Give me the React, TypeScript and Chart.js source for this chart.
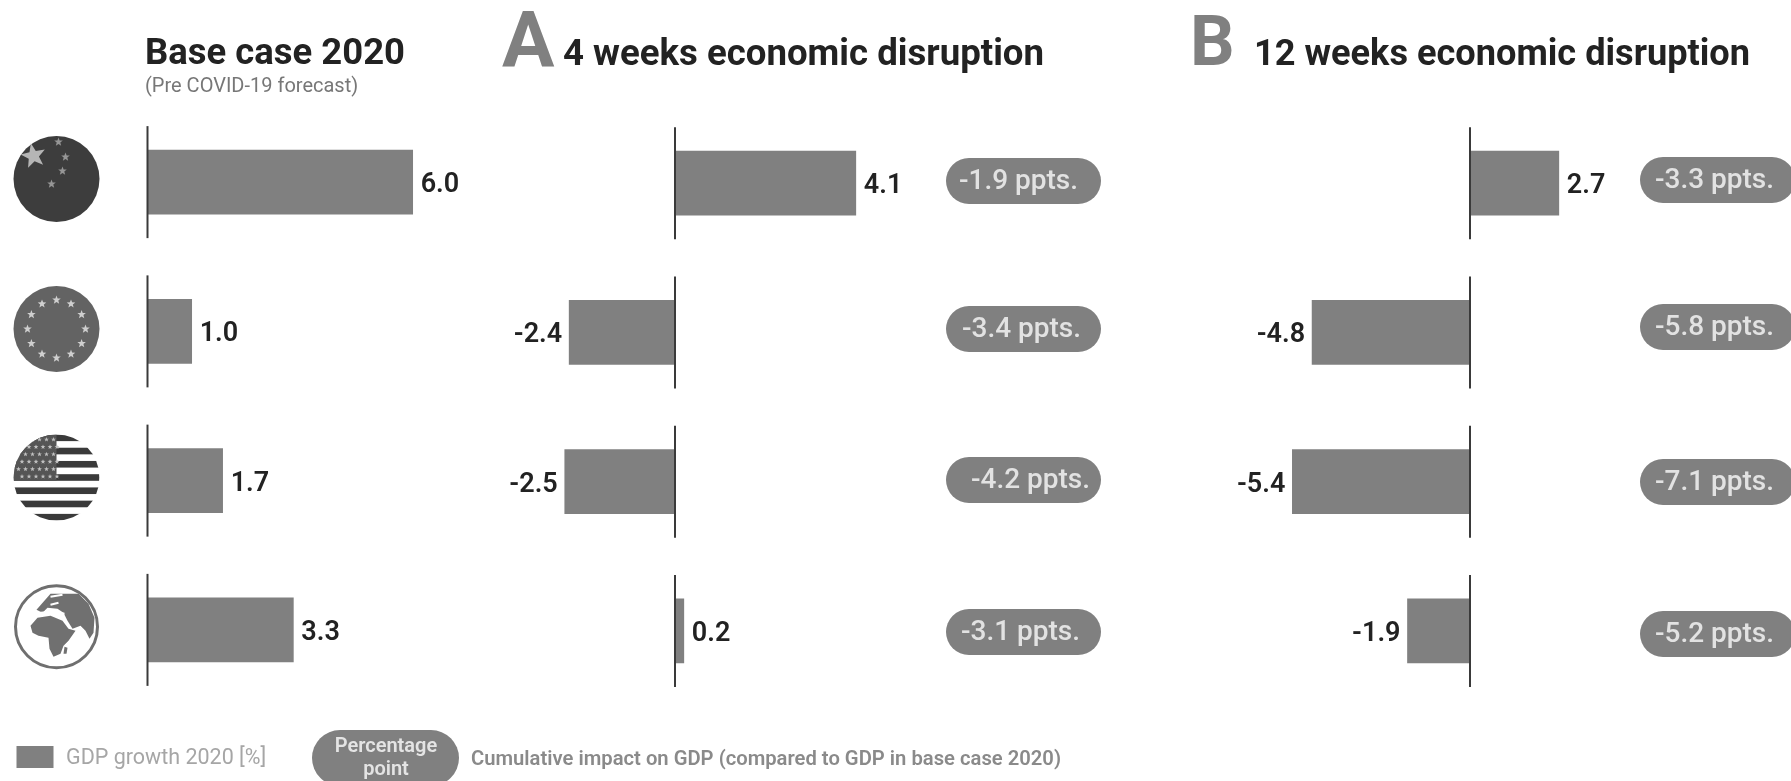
import React, { useEffect, useRef } from "react";
import { Chart, registerables } from "chart.js";

Chart.register(...registerables);

const FONT = "Roboto, 'Noto Sans', sans-serif";
const BAR = "#808080";
const INK = "#222222";

const regions = ["China", "Euro area", "USA", "World"];
const baseCase = [6.0, 1.0, 1.7, 3.3];
const fourWeeks = [4.1, -2.4, -2.5, 0.2];
const twelveWeeks = [2.7, -4.8, -5.4, -1.9];
const fourWeeksImpact = ["-1.9 ppts.", "-3.4 ppts.", "-4.2 ppts.", "-3.1 ppts."];
const twelveWeeksImpact = ["-3.3 ppts.", "-5.8 ppts.", "-7.1 ppts.", "-5.2 ppts."];

type PanelConfig = {
  id: string;
  values: number[];
  impact?: string[];
  impactLeft?: number;
  impactWidth?: number;
  impactCentres?: number[];
  impactShift?: number[];
  zero: number;
  pxPerUnit: number;
  offsetY: number;
};

const panels: PanelConfig[] = [
  { id: "base", values: baseCase, zero: 147.5, pxPerUnit: 44.2, offsetY: 0 },
  {
    id: "four",
    values: fourWeeks,
    impact: fourWeeksImpact,
    impactLeft: 946,
    impactWidth: 155,
    impactCentres: [181, 329, 480, 632],
    impactShift: [-5, -2, 7, -3],
    zero: 675,
    pxPerUnit: 44.1,
    offsetY: 1,
  },
  {
    id: "twelve",
    values: twelveWeeks,
    impact: twelveWeeksImpact,
    impactLeft: 1640,
    impactWidth: 155,
    impactCentres: [180, 327, 482, 634],
    impactShift: [-3, -3, -3, -3],
    zero: 1470,
    pxPerUnit: 32.9,
    offsetY: 1,
  },
];

function pill(ctx: CanvasRenderingContext2D, x: number, y: number, w: number, h: number) {
  ctx.beginPath();
  ctx.roundRect(x, y, w, h, h / 2);
  ctx.fill();
}

// Text condensed to a given width through the maxWidth argument of fillText.
function label(
  ctx: CanvasRenderingContext2D,
  text: string,
  x: number,
  y: number,
  font: string,
  color: string,
  align: CanvasTextAlign = "left",
  maxWidth?: number
) {
  ctx.font = font;
  ctx.fillStyle = color;
  ctx.textAlign = align;
  ctx.textBaseline = "alphabetic";
  if (maxWidth) ctx.fillText(text, x, y, maxWidth);
  else ctx.fillText(text, x, y);
}

const panelDecor = {
  id: "panelDecor",
  afterDatasetsDraw(chart: any, _args: any, opts: any) {
    const cfg: PanelConfig = opts.panel;
    const { ctx, scales } = chart;
    const x = scales.x;
    const y = scales.y;
    const zero = x.getPixelForValue(0);
    ctx.save();
    cfg.values.forEach((v, i) => {
      const cy = y.getPixelForValue(i);
      // Zero line, one short stretch per row
      ctx.strokeStyle = "#3a3a3a";
      ctx.lineWidth = 2;
      ctx.beginPath();
      ctx.moveTo(zero, cy - 56);
      ctx.lineTo(zero, cy + 56);
      ctx.stroke();
      // Value next to the bar end
      const end = x.getPixelForValue(v);
      const text = v.toFixed(1);
      const font = `600 27px ${FONT}`;
      if (v >= 0) label(ctx, text, end + 8, cy + 10, font, INK, "left");
      else label(ctx, text, end - 7, cy + 10, font, INK, "right");
      // Cumulative impact badge
      if (cfg.impact) {
        const pc = cfg.impactCentres![i];
        ctx.fillStyle = BAR;
        pill(ctx, cfg.impactLeft!, pc - 23, cfg.impactWidth!, 46);
        label(
          ctx,
          cfg.impact[i],
          cfg.impactLeft! + 77.5 + cfg.impactShift![i],
          pc + 9 - cfg.offsetY,
          `500 28px ${FONT}`,
          "#e2e2e2",
          "center"
        );
      }
    });
    ctx.restore();
  },
};

function star(ctx: CanvasRenderingContext2D, cx: number, cy: number, r: number, rot = -Math.PI / 2) {
  ctx.beginPath();
  for (let i = 0; i < 10; i++) {
    const rad = i % 2 === 0 ? r : r * 0.42;
    const a = rot + (i * Math.PI) / 5;
    ctx.lineTo(cx + Math.cos(a) * rad, cy + Math.sin(a) * rad);
  }
  ctx.closePath();
  ctx.fill();
}

function clipDisc(ctx: CanvasRenderingContext2D, cx: number, cy: number, r: number) {
  ctx.beginPath();
  ctx.arc(cx, cy, r, 0, Math.PI * 2);
  ctx.clip();
}

function drawChinaFlag(ctx: CanvasRenderingContext2D, cx: number, cy: number, r: number) {
  ctx.fillStyle = "#3d3d3d";
  ctx.beginPath();
  ctx.arc(cx, cy, r, 0, Math.PI * 2);
  ctx.fill();
  ctx.fillStyle = "#b5b5b5";
  star(ctx, cx - 23, cy - 23, 13, -Math.PI / 2 - 0.2);
  ctx.fillStyle = "#969696";
  star(ctx, cx + 2, cy - 37, 4.5);
  star(ctx, cx + 9, cy - 22, 4.5);
  star(ctx, cx + 6, cy - 8, 4.5);
  star(ctx, cx - 5, cy + 5, 4.5);
}

function drawEuFlag(ctx: CanvasRenderingContext2D, cx: number, cy: number, r: number) {
  ctx.fillStyle = "#636363";
  ctx.beginPath();
  ctx.arc(cx, cy, r, 0, Math.PI * 2);
  ctx.fill();
  ctx.fillStyle = "#cfcfcf";
  for (let i = 0; i < 12; i++) {
    const a = (i * Math.PI) / 6;
    star(ctx, cx + Math.cos(a) * 29, cy + Math.sin(a) * 29, 4.5);
  }
}

function drawUsFlag(ctx: CanvasRenderingContext2D, cx: number, cy: number, r: number) {
  ctx.save();
  clipDisc(ctx, cx, cy, r);
  ctx.fillStyle = "#ffffff";
  ctx.fillRect(cx - r, cy - r, r * 2, r * 2);
  ctx.fillStyle = "#3a3a3a";
  const band = (r * 2) / 13;
  for (let i = 0; i < 13; i += 2) {
    ctx.fillRect(cx - r, cy - r + i * band, r * 2, band);
  }
  ctx.fillStyle = "#555555";
  ctx.fillRect(cx - r, cy - r, r, band * 7);
  ctx.fillStyle = "#c0c0c0";
  for (let row = 0; row < 6; row++) {
    for (let col = 0; col < 6; col++) {
      star(ctx, cx - r + 5 + col * 7 + (row % 2) * 3.5, cy - r + 5 + row * 7.4, 2.5);
    }
  }
  ctx.restore();
}

const africa = [[-26, -1], [-19, -9], [-6, -11], [6, -6], [12, 2], [19, 4], [12, 14], [7, 19], [4, 27], [-3, 30], [-7, 22], [-8, 11], [-18, 9], [-24, 6]];
const eurasia = [[-13, -25], [-6, -33], [7, -33], [22, -33], [32, -23], [38, -9], [37, 6], [33, 12], [29, 4], [24, -1], [16, 2], [11, -6], [7, -14], [1, -18], [-9, -19], [-14, -14], [-20, -17]];
const madagascar = [[8, 20], [11, 21], [10, 27], [7, 27]];

function drawGlobe(ctx: CanvasRenderingContext2D, cx: number, cy: number, r: number) {
  const shape = (pts: number[][]) => {
    ctx.beginPath();
    pts.forEach(([px, py]) => ctx.lineTo(cx + px, cy + py));
    ctx.closePath();
    ctx.fill();
  };
  ctx.strokeStyle = "#6f6f6f";
  ctx.lineWidth = 3;
  ctx.beginPath();
  ctx.arc(cx, cy, r - 1.5, 0, Math.PI * 2);
  ctx.stroke();
  ctx.save();
  clipDisc(ctx, cx, cy, r - 1);
  ctx.fillStyle = "#707070";
  shape(africa);
  shape(eurasia);
  shape(madagascar);
  // Light channels: the Mediterranean and the Baltic
  ctx.strokeStyle = "#ffffff";
  ctx.lineWidth = 2;
  ctx.beginPath();
  ctx.moveTo(cx - 16, cy - 14);
  ctx.lineTo(cx - 4, cy - 15);
  ctx.lineTo(cx + 8, cy - 13);
  ctx.moveTo(cx - 6, cy - 30);
  ctx.lineTo(cx + 6, cy - 32);
  ctx.moveTo(cx - 6, cy - 22);
  ctx.lineTo(cx + 2, cy - 24);
  ctx.stroke();
  ctx.restore();
}

const frameDecor = {
  id: "frameDecor",
  afterDraw(chart: any) {
    const { ctx } = chart;
    ctx.save();
    const heading = `700 37px ${FONT}`;
    label(ctx, "Base case 2020", 145, 64, heading, INK, "left", 260);
    label(ctx, "(Pre COVID-19 forecast)", 145, 92, `400 20px ${FONT}`, "#777777", "left", 217);
    label(ctx, "A", 502, 67, `700 78px ${FONT}`, BAR, "left", 54);
    label(ctx, "4 weeks economic disruption", 563, 65, heading, INK, "left", 481);
    label(ctx, "B", 1190, 65, `700 70px ${FONT}`, BAR, "left", 48);
    label(ctx, "12 weeks economic disruption", 1254, 65, heading, INK, "left", 496);

    drawChinaFlag(ctx, 56.5, 179, 43);
    drawEuFlag(ctx, 56.5, 329, 43);
    drawUsFlag(ctx, 56.5, 477.5, 43);
    drawGlobe(ctx, 56.5, 626.7, 42.5);

    ctx.fillStyle = BAR;
    ctx.fillRect(16.5, 746, 37, 22);
    label(ctx, "GDP growth 2020 [%]", 66, 764, `400 21.5px ${FONT}`, "#a6a6a6", "left", 204);
    ctx.fillStyle = BAR;
    pill(ctx, 312, 730, 147, 56);
    label(ctx, "Percentage", 386, 752, `600 20px ${FONT}`, "#e4e4e4", "center");
    label(ctx, "point", 386, 775, `600 20px ${FONT}`, "#e4e4e4", "center");
    label(
      ctx,
      "Cumulative impact on GDP (compared to GDP in base case 2020)",
      471,
      765,
      `600 20.5px ${FONT}`,
      "#8a8a8a",
      "left",
      590
    );
    ctx.restore();
  },
};

function Panel({ cfg, withFrame }: { cfg: PanelConfig; withFrame: boolean }) {
  const ref = useRef<HTMLCanvasElement>(null);
  useEffect(() => {
    const chart = new Chart(ref.current!, {
      type: "bar",
      data: {
        labels: regions,
        datasets: [{ data: cfg.values, backgroundColor: BAR, barThickness: 64, borderWidth: 0 }],
      },
      plugins: withFrame ? [panelDecor, frameDecor] : [panelDecor],
      options: {
        animation: false,
        responsive: false,
        indexAxis: "y",
        layout: { padding: { top: 107.5 + cfg.offsetY, bottom: 76.5 - cfg.offsetY, left: 0, right: 0 } },
        scales: {
          x: {
            type: "linear",
            display: false,
            min: -cfg.zero / cfg.pxPerUnit,
            max: (1791 - cfg.zero) / cfg.pxPerUnit,
          },
          y: { type: "category", display: false },
        },
        plugins: {
          legend: { display: false },
          tooltip: { enabled: false },
          panelDecor: { panel: cfg },
        },
      },
    } as any);
    return () => chart.destroy();
  }, [cfg, withFrame]);
  return (
    <canvas
      ref={ref}
      width={1791}
      height={781}
      style={{ position: "absolute", left: 0, top: 0, width: 1791, height: 781 }}
    />
  );
}

export default function App() {
  useEffect(() => {
    document.body.style.margin = "0";
    document.body.style.background = "#ffffff";
  }, []);
  return (
    <div style={{ position: "relative", width: 1791, height: 781, overflow: "hidden", background: "#ffffff" }}>
      {panels.map((p, i) => (
        <Panel key={p.id} cfg={p} withFrame={i === 0} />
      ))}
    </div>
  );
}
